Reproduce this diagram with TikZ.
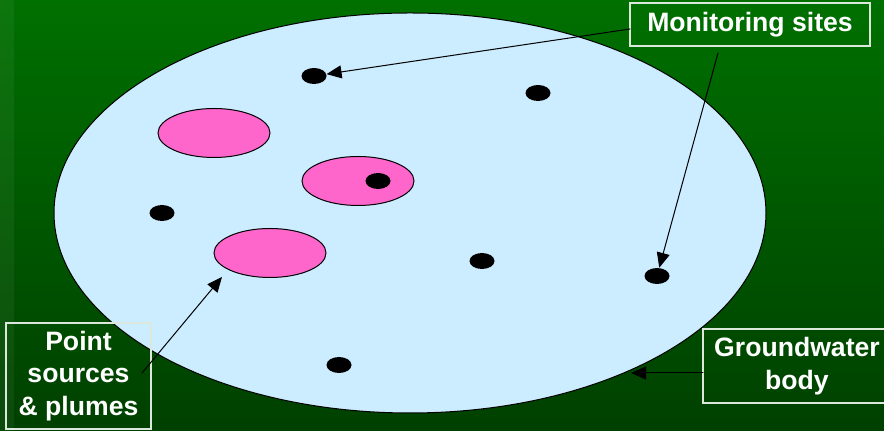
\documentclass[tikz,border=0pt]{standalone}
\usepackage{fontspec}
\setmainfont{Liberation Sans}
\usetikzlibrary{arrows.meta,shapes.geometric}
\definecolor{bgTop}{RGB}{0,112,0}
\definecolor{bgMid}{RGB}{0,124,0}
\definecolor{bgBot}{RGB}{0,64,0}
\definecolor{water}{RGB}{204,236,255}
\definecolor{plume}{RGB}{255,102,204}
\definecolor{frame}{RGB}{220,232,220}

\begin{document}
\begin{tikzpicture}[x=0.5pt, y=-0.5pt, line cap=round,
  site/.style={ellipse, fill=black, inner sep=0pt, minimum width=12.5pt, minimum height=8pt},
  source/.style={ellipse, draw=black, fill=plume, line width=0.5pt, inner sep=0pt,
    minimum width=56pt, minimum height=24.5pt},
  tag/.style={draw=frame, line width=0.6pt, text=white, align=center, inner sep=0pt,
    font=\fontsize{13.3}{16.2}\selectfont\bfseries},
  pointer/.style={-{Triangle[length=7.5pt,width=6.5pt]}, line width=0.5pt}]
\useasboundingbox (0,0) rectangle (884,431);
\clip (0,0) rectangle (884,431);
% 背景
\shade[top color=bgTop, middle color=bgMid, bottom color=bgBot] (0,0) rectangle (884,431);
\fill[white, opacity=0.05] (0,0) rectangle (14,431);
% 地下水体
\node[ellipse, draw=black, fill=water, line width=0.5pt, inner sep=0pt,
  minimum width=356pt, minimum height=200pt] (body) at (410,213) {};
% 污染源
\node[source] (p1) at (214,133) {};
\node[source] (p2) at (358,181) {};
\node[source] (p3) at (270,253) {};
% 监测点
\node[site] (s1) at (314,76) {};
\node[site] (s2) at (538,93) {};
\node[site] (s3) at (378,181) {};
\node[site] (s4) at (162,213) {};
\node[site] (s5) at (482,261) {};
\node[site] (s6) at (657,276) {};
\node[site] (s7) at (339,365) {};
% 标注
\node[tag, minimum width=120pt, minimum height=21.5pt] (mon) at (750,24.5) {Monitoring sites};
\node[tag, minimum width=72.5pt, minimum height=53pt] (src) at (78.5,376) {Point\\sources\\\& plumes};
\node[tag, minimum width=94pt, minimum height=37pt] (gw) at (797,366) {Groundwater\\body};
\coordinate (monA) at (630,29);
\coordinate (monB) at (718,53);
\coordinate (srcA) at (142,373);
\coordinate (srcB) at (222,277);
\coordinate (gwA) at (703,373);
\coordinate (gwB) at (631,373);
\draw[pointer] (monA) -- (s1);
\draw[pointer] (monB) -- (s6);
\draw[pointer] (srcA) -- (srcB);
\draw[pointer] (gwA) -- (gwB);
\end{tikzpicture}
\end{document}
